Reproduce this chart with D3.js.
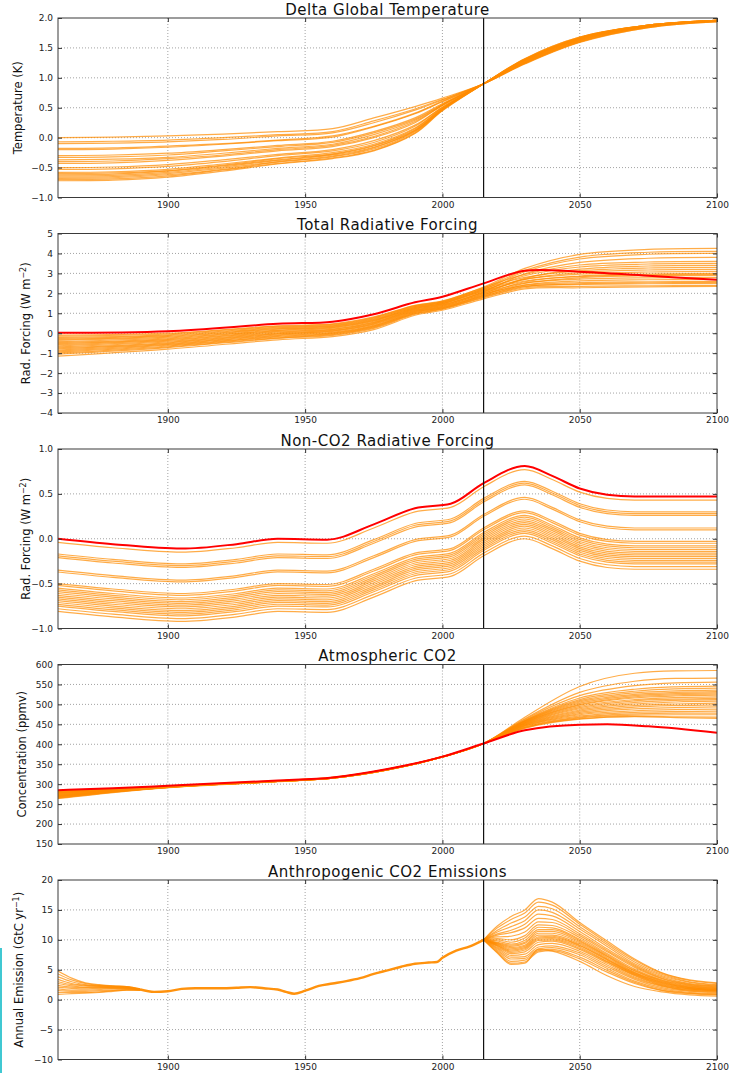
<!DOCTYPE html>
<html>
<head>
<meta charset="utf-8">
<script src="https://cdn.jsdelivr.net/npm/d3@7"></script>
<style>
  body { margin: 0; background: #fff; }
  svg { display: block; font-family: "DejaVu Sans", sans-serif; }
</style>
</head>
<body>
<svg id="chart" width="733" height="1073"></svg>
<script>
// ---------------- data ----------------
const X_TICKS = [1900, 1950, 2000, 2050, 2100];
const CUT_YEAR = 2015;

// Delta global temperature (K)
const TEMP_TICKS = [-1.0, -0.5, 0.0, 0.5, 1.0, 1.5, 2.0];
const TEMP_YEARS = [1860, 1880, 1900, 1920, 1940, 1960, 1975, 1990, 2000, 2015, 2030, 2050, 2075, 2100];
const TEMP_RUNS = [
  [0.00, 0.01, 0.03, 0.06, 0.10, 0.15, 0.33, 0.52, 0.66, 0.90, 1.23, 1.59, 1.84, 1.94],
  [-0.07, -0.06, -0.04, 0.00, 0.05, 0.10, 0.28, 0.48, 0.64, 0.90, 1.24, 1.60, 1.84, 1.94],
  [-0.10, -0.09, -0.07, -0.03, 0.03, 0.08, 0.25, 0.46, 0.63, 0.90, 1.24, 1.60, 1.85, 1.94],
  [-0.18, -0.17, -0.14, -0.10, -0.04, 0.03, 0.19, 0.41, 0.61, 0.90, 1.25, 1.61, 1.85, 1.95],
  [-0.20, -0.19, -0.16, -0.11, -0.05, 0.01, 0.18, 0.40, 0.60, 0.90, 1.25, 1.62, 1.85, 1.95],
  [-0.30, -0.29, -0.26, -0.20, -0.13, -0.06, 0.10, 0.33, 0.57, 0.90, 1.26, 1.62, 1.86, 1.95],
  [-0.33, -0.32, -0.29, -0.22, -0.15, -0.08, 0.08, 0.31, 0.56, 0.90, 1.26, 1.63, 1.86, 1.95],
  [-0.37, -0.36, -0.33, -0.26, -0.18, -0.11, 0.05, 0.29, 0.55, 0.90, 1.27, 1.63, 1.86, 1.95],
  [-0.40, -0.39, -0.35, -0.29, -0.20, -0.13, 0.02, 0.27, 0.54, 0.90, 1.27, 1.64, 1.86, 1.95],
  [-0.43, -0.42, -0.38, -0.31, -0.22, -0.15, 0.00, 0.25, 0.54, 0.90, 1.28, 1.64, 1.87, 1.95],
  [-0.50, -0.49, -0.45, -0.37, -0.28, -0.20, -0.05, 0.21, 0.51, 0.90, 1.28, 1.65, 1.87, 1.95],
  [-0.53, -0.52, -0.48, -0.40, -0.30, -0.22, -0.08, 0.19, 0.51, 0.90, 1.29, 1.65, 1.87, 1.96],
  [-0.58, -0.57, -0.53, -0.44, -0.34, -0.25, -0.11, 0.16, 0.49, 0.90, 1.29, 1.66, 1.87, 1.96],
  [-0.60, -0.59, -0.55, -0.46, -0.35, -0.27, -0.13, 0.15, 0.49, 0.90, 1.30, 1.66, 1.87, 1.96],
  [-0.62, -0.61, -0.56, -0.47, -0.37, -0.28, -0.14, 0.13, 0.48, 0.90, 1.30, 1.66, 1.88, 1.96],
  [-0.64, -0.63, -0.58, -0.49, -0.38, -0.29, -0.16, 0.12, 0.47, 0.90, 1.30, 1.67, 1.88, 1.96],
  [-0.66, -0.65, -0.60, -0.51, -0.40, -0.31, -0.17, 0.11, 0.47, 0.90, 1.31, 1.67, 1.88, 1.96],
  [-0.68, -0.67, -0.62, -0.53, -0.41, -0.32, -0.19, 0.10, 0.46, 0.90, 1.31, 1.67, 1.88, 1.96],
  [-0.70, -0.69, -0.64, -0.54, -0.43, -0.34, -0.21, 0.08, 0.46, 0.90, 1.32, 1.68, 1.88, 1.96],
  [-0.72, -0.71, -0.66, -0.56, -0.44, -0.35, -0.22, 0.07, 0.45, 0.90, 1.32, 1.68, 1.88, 1.96]
];

// Total radiative forcing (W m-2)
const RF_TICKS = [-4, -3, -2, -1, 0, 1, 2, 3, 4, 5];
const RF_YEARS = [1860, 1900, 1940, 1960, 1975, 1990, 2000, 2015, 2030, 2050, 2075, 2100];
const RF_RUNS = [
  [-0.10, 0.00, 0.37, 0.47, 0.82, 1.40, 1.62, 2.32, 3.25, 3.95, 4.20, 4.25],
  [-0.15, -0.04, 0.34, 0.44, 0.79, 1.38, 1.60, 2.29, 2.95, 3.42, 3.57, 3.60],
  [-0.21, -0.08, 0.30, 0.41, 0.76, 1.35, 1.57, 2.26, 3.15, 3.82, 4.06, 4.10],
  [-0.26, -0.12, 0.27, 0.37, 0.72, 1.33, 1.55, 2.23, 2.80, 3.13, 3.27, 3.30],
  [-0.31, -0.16, 0.23, 0.34, 0.69, 1.30, 1.53, 2.20, 3.08, 3.72, 3.96, 4.00],
  [-0.36, -0.20, 0.20, 0.31, 0.66, 1.28, 1.50, 2.17, 2.70, 2.96, 3.07, 3.10],
  [-0.42, -0.24, 0.16, 0.28, 0.63, 1.25, 1.48, 2.14, 2.88, 3.32, 3.47, 3.50],
  [-0.47, -0.28, 0.13, 0.25, 0.60, 1.23, 1.46, 2.11, 2.62, 2.84, 2.93, 2.95],
  [-0.52, -0.32, 0.09, 0.21, 0.56, 1.20, 1.43, 2.08, 2.98, 3.55, 3.76, 3.80],
  [-0.57, -0.36, 0.06, 0.18, 0.53, 1.18, 1.41, 2.05, 2.70, 3.04, 3.17, 3.20],
  [-0.63, -0.40, 0.02, 0.15, 0.50, 1.15, 1.39, 2.02, 2.52, 2.71, 2.78, 2.80],
  [-0.68, -0.44, -0.02, 0.12, 0.47, 1.13, 1.36, 1.99, 2.75, 3.21, 3.37, 3.40],
  [-0.73, -0.48, -0.05, 0.09, 0.44, 1.10, 1.34, 1.96, 2.40, 2.54, 2.58, 2.60],
  [-0.78, -0.52, -0.09, 0.05, 0.40, 1.08, 1.31, 1.93, 2.58, 2.87, 2.97, 3.00],
  [-0.84, -0.56, -0.12, 0.02, 0.37, 1.05, 1.29, 1.90, 2.50, 2.78, 2.88, 2.90],
  [-0.89, -0.60, -0.16, -0.01, 0.34, 1.03, 1.27, 1.87, 2.35, 2.45, 2.48, 2.50],
  [-0.94, -0.64, -0.19, -0.04, 0.31, 1.00, 1.24, 1.84, 2.42, 2.62, 2.68, 2.70],
  [-0.99, -0.68, -0.23, -0.07, 0.28, 0.98, 1.22, 1.81, 2.33, 2.48, 2.53, 2.55],
  [-1.05, -0.72, -0.26, -0.11, 0.24, 0.95, 1.20, 1.78, 2.28, 2.35, 2.38, 2.40],
  [-1.15, -0.80, -0.33, -0.17, 0.18, 0.90, 1.15, 1.72, 2.22, 2.28, 2.32, 2.35]
];
const RF_RED = [0.02, 0.10, 0.47, 0.58, 0.95, 1.55, 1.83, 2.50, 3.13, 3.08, 2.88, 2.68];

// Non-CO2 radiative forcing (W m-2)
const NC_TICKS = [-1.0, -0.5, 0.0, 0.5, 1.0];
const NC_YEARS = [1860, 1880, 1905, 1925, 1940, 1958, 1975, 1990, 2003, 2015, 2030, 2040, 2050, 2060, 2070, 2100];
const NC_RED = [0.00, -0.06, -0.11, -0.06, 0.00, -0.01, 0.16, 0.34, 0.39, 0.62, 0.81, 0.70, 0.56, 0.49, 0.47, 0.47];
const NC_RUNS = [
  [-0.04, -0.10, -0.15, -0.10, -0.04, -0.05, 0.12, 0.30, 0.35, 0.58, 0.77, 0.66, 0.52, 0.45, 0.43, 0.43],
  [-0.17, -0.23, -0.28, -0.23, -0.17, -0.18, -0.01, 0.17, 0.22, 0.45, 0.64, 0.53, 0.39, 0.32, 0.30, 0.30],
  [-0.19, -0.25, -0.30, -0.25, -0.19, -0.20, -0.03, 0.15, 0.20, 0.43, 0.62, 0.51, 0.37, 0.30, 0.28, 0.28],
  [-0.21, -0.27, -0.32, -0.27, -0.21, -0.22, -0.05, 0.13, 0.18, 0.41, 0.60, 0.49, 0.35, 0.28, 0.26, 0.26],
  [-0.35, -0.41, -0.46, -0.41, -0.35, -0.36, -0.19, -0.01, 0.04, 0.27, 0.46, 0.35, 0.21, 0.14, 0.12, 0.12],
  [-0.37, -0.43, -0.48, -0.43, -0.37, -0.38, -0.21, -0.03, 0.02, 0.25, 0.44, 0.33, 0.19, 0.12, 0.10, 0.10],
  [-0.50, -0.56, -0.61, -0.56, -0.50, -0.51, -0.34, -0.16, -0.11, 0.12, 0.31, 0.20, 0.06, -0.01, -0.03, -0.03],
  [-0.52, -0.58, -0.63, -0.58, -0.52, -0.53, -0.36, -0.18, -0.13, 0.10, 0.29, 0.18, 0.04, -0.03, -0.05, -0.05],
  [-0.55, -0.61, -0.66, -0.61, -0.55, -0.56, -0.39, -0.21, -0.16, 0.07, 0.26, 0.15, 0.01, -0.06, -0.08, -0.08],
  [-0.57, -0.63, -0.68, -0.63, -0.57, -0.58, -0.41, -0.23, -0.18, 0.05, 0.24, 0.13, -0.01, -0.08, -0.10, -0.10],
  [-0.59, -0.65, -0.70, -0.65, -0.59, -0.60, -0.43, -0.25, -0.20, 0.03, 0.22, 0.11, -0.03, -0.10, -0.12, -0.12],
  [-0.61, -0.67, -0.72, -0.67, -0.61, -0.62, -0.45, -0.27, -0.22, 0.01, 0.20, 0.09, -0.05, -0.12, -0.14, -0.14],
  [-0.63, -0.69, -0.74, -0.69, -0.63, -0.64, -0.47, -0.29, -0.24, -0.01, 0.18, 0.07, -0.07, -0.14, -0.16, -0.16],
  [-0.65, -0.71, -0.76, -0.71, -0.65, -0.66, -0.49, -0.31, -0.26, -0.03, 0.16, 0.05, -0.09, -0.16, -0.18, -0.18],
  [-0.67, -0.73, -0.78, -0.73, -0.67, -0.68, -0.51, -0.33, -0.28, -0.05, 0.14, 0.03, -0.11, -0.18, -0.20, -0.20],
  [-0.69, -0.75, -0.80, -0.75, -0.69, -0.70, -0.53, -0.35, -0.30, -0.07, 0.12, 0.01, -0.13, -0.20, -0.22, -0.22],
  [-0.71, -0.77, -0.82, -0.77, -0.71, -0.72, -0.55, -0.37, -0.32, -0.09, 0.10, -0.01, -0.15, -0.22, -0.24, -0.24],
  [-0.73, -0.79, -0.84, -0.79, -0.73, -0.74, -0.57, -0.39, -0.34, -0.11, 0.08, -0.03, -0.17, -0.24, -0.26, -0.26],
  [-0.75, -0.81, -0.86, -0.81, -0.75, -0.76, -0.59, -0.41, -0.36, -0.13, 0.06, -0.05, -0.19, -0.26, -0.28, -0.28],
  [-0.78, -0.84, -0.89, -0.84, -0.78, -0.79, -0.62, -0.44, -0.39, -0.16, 0.03, -0.08, -0.22, -0.29, -0.31, -0.31],
  [-0.81, -0.87, -0.92, -0.87, -0.81, -0.82, -0.65, -0.47, -0.42, -0.19, 0.00, -0.11, -0.25, -0.32, -0.34, -0.34]
];

// Atmospheric CO2 (ppmv)
const CO2_TICKS = [150, 200, 250, 300, 350, 400, 450, 500, 550, 600];
const CO2_YEARS = [1860, 1880, 1900, 1940, 1960, 1980, 2000, 2015, 2030, 2050, 2070, 2085, 2100];
const CO2_RUNS = [
  [284, 289, 295, 309, 317, 338, 369, 402, 468, 545, 578, 584, 585],
  [265, 280, 292, 307, 316, 337, 368, 402, 464, 530, 558, 565, 566],
  [278, 286, 294, 308, 316, 337, 368, 402, 462, 522, 547, 554, 556],
  [270, 282, 292, 307, 315, 336, 368, 402, 460, 516, 538, 544, 546],
  [281, 288, 294, 308, 316, 337, 369, 402, 459, 512, 533, 539, 541],
  [268, 281, 292, 307, 315, 336, 368, 402, 458, 509, 529, 534, 536],
  [275, 285, 293, 308, 316, 337, 368, 402, 457, 506, 525, 530, 532],
  [272, 283, 293, 307, 316, 337, 368, 402, 456, 503, 522, 527, 529],
  [283, 289, 295, 309, 317, 338, 369, 402, 455, 500, 519, 524, 526],
  [267, 281, 292, 307, 315, 336, 368, 402, 454, 498, 516, 521, 523],
  [279, 287, 294, 308, 316, 337, 369, 402, 453, 495, 512, 517, 519],
  [273, 284, 293, 307, 316, 337, 368, 402, 452, 492, 509, 513, 515],
  [276, 285, 293, 308, 316, 337, 368, 402, 451, 489, 505, 510, 512],
  [269, 282, 292, 307, 315, 336, 368, 402, 450, 486, 501, 506, 508],
  [280, 287, 294, 308, 316, 337, 369, 402, 449, 483, 497, 501, 503],
  [266, 280, 292, 307, 315, 336, 368, 402, 448, 480, 493, 497, 499],
  [277, 286, 294, 308, 316, 337, 368, 402, 447, 477, 489, 492, 494],
  [271, 283, 293, 307, 315, 336, 368, 402, 446, 474, 484, 487, 488],
  [282, 288, 295, 308, 317, 337, 369, 402, 445, 471, 480, 482, 483],
  [274, 284, 293, 307, 316, 337, 368, 402, 443, 468, 476, 478, 478],
  [264, 279, 291, 306, 315, 336, 368, 402, 442, 466, 473, 474, 474],
  [279, 287, 294, 308, 316, 337, 369, 402, 441, 464, 470, 469, 468],
  [270, 282, 292, 307, 315, 336, 368, 402, 440, 463, 469, 467, 465]
];
const CO2_RED_YEARS = [1860, 1880, 1900, 1940, 1960, 1980, 2000, 2015, 2030, 2050, 2060, 2075, 2100];
const CO2_RED = [285, 290, 296, 309, 317, 338, 369, 402, 435, 449, 450, 445, 429];

// Anthropogenic CO2 emissions (GtC yr-1)
const EM_TICKS = [-10, -5, 0, 5, 10, 15, 20];
const EM_EARLY_YEARS = [1860, 1865, 1870, 1875, 1880, 1885, 1890];
const EM_EARLY_RUNS = [
  [4.8, 3.6, 2.8, 2.5, 2.3, 2.2, 1.8],
  [4.3, 3.3, 2.7, 2.4, 2.3, 2.2, 1.8],
  [3.8, 3.0, 2.5, 2.3, 2.2, 2.1, 1.7],
  [3.4, 2.7, 2.4, 2.3, 2.2, 2.1, 1.7],
  [3.0, 2.5, 2.3, 2.2, 2.1, 2.0, 1.7],
  [2.7, 2.3, 2.1, 2.1, 2.0, 2.0, 1.7],
  [2.4, 2.1, 2.0, 2.0, 2.0, 1.9, 1.7],
  [2.1, 1.9, 1.8, 1.9, 1.9, 1.9, 1.6],
  [1.8, 1.6, 1.6, 1.7, 1.8, 1.8, 1.6],
  [1.5, 1.4, 1.4, 1.5, 1.6, 1.7, 1.6],
  [1.2, 1.2, 1.2, 1.3, 1.5, 1.6, 1.6],
  [0.9, 1.0, 1.1, 1.2, 1.4, 1.6, 1.6]
];
const EM_HIST_YEARS = [1890, 1895, 1900, 1905, 1910, 1915, 1920, 1925, 1930, 1935, 1940, 1943, 1946, 1950, 1955, 1960, 1965, 1970, 1975, 1980, 1985, 1990, 1995, 1998, 2000, 2005, 2010, 2015];
const EM_HIST = [1.7, 1.3, 1.4, 1.8, 1.9, 1.9, 1.9, 2.0, 2.1, 1.9, 1.7, 1.3, 1.0, 1.5, 2.3, 2.7, 3.1, 3.6, 4.3, 4.9, 5.5, 6.0, 6.2, 6.3, 7.0, 8.2, 8.9, 10.0];
const EM_FUT_YEARS = [2015, 2020, 2025, 2030, 2035, 2040, 2050, 2060, 2070, 2080, 2090, 2100];
const EM_FUT_RUNS = [
  [10, 12.3, 13.9, 15.0, 16.9, 16.3, 12.9, 9.8, 6.8, 4.5, 3.3, 2.8],
  [10, 12.0, 13.4, 14.5, 16.3, 15.8, 12.6, 9.5, 6.6, 4.4, 3.2, 2.7],
  [10, 11.6, 12.8, 13.8, 15.6, 15.2, 12.2, 9.2, 6.3, 4.2, 3.0, 2.5],
  [10, 11.3, 12.2, 13.2, 15.0, 14.6, 11.8, 8.9, 6.0, 4.0, 2.9, 2.4],
  [10, 11.0, 11.6, 12.6, 14.3, 14.0, 11.4, 8.5, 5.8, 3.8, 2.7, 2.3],
  [10, 10.8, 11.2, 12.0, 13.6, 13.4, 11.0, 8.2, 5.6, 3.6, 2.6, 2.2],
  [10, 10.5, 10.6, 11.3, 13.0, 12.9, 10.7, 8.0, 5.4, 3.5, 2.5, 2.1],
  [10, 10.2, 10.0, 10.7, 12.5, 12.4, 10.4, 7.7, 5.1, 3.3, 2.4, 2.0],
  [10, 10.0, 9.6, 10.3, 12.1, 12.0, 10.1, 7.5, 4.9, 3.2, 2.3, 1.9],
  [10, 9.8, 9.3, 9.9, 11.7, 11.7, 9.9, 7.3, 4.8, 3.1, 2.2, 1.9],
  [10, 9.6, 9.1, 9.6, 11.4, 11.4, 9.7, 7.2, 4.6, 3.0, 2.1, 1.8],
  [10, 9.5, 8.9, 9.4, 11.1, 11.1, 9.5, 7.0, 4.5, 2.9, 2.0, 1.7],
  [10, 9.4, 8.7, 9.1, 10.8, 10.8, 9.3, 6.8, 4.4, 2.8, 2.0, 1.7],
  [10, 9.3, 8.5, 8.9, 10.5, 10.6, 9.1, 6.7, 4.3, 2.7, 1.9, 1.6],
  [10, 9.2, 8.3, 8.7, 10.3, 10.4, 9.0, 6.6, 4.2, 2.6, 1.8, 1.6],
  [10, 9.1, 8.1, 8.5, 10.1, 10.2, 8.8, 6.4, 4.1, 2.5, 1.8, 1.5],
  [10, 9.0, 7.9, 8.3, 9.9, 10.0, 8.6, 6.3, 4.0, 2.4, 1.7, 1.5],
  [10, 8.9, 7.7, 8.0, 9.6, 9.8, 8.4, 6.1, 3.8, 2.3, 1.6, 1.4],
  [10, 8.7, 7.4, 7.6, 9.2, 9.4, 8.1, 5.8, 3.6, 2.2, 1.5, 1.3],
  [10, 8.5, 7.1, 7.2, 8.8, 9.0, 7.8, 5.5, 3.4, 2.0, 1.4, 1.2],
  [10, 8.3, 6.8, 6.9, 8.5, 8.7, 7.5, 5.2, 3.1, 1.8, 1.2, 1.0],
  [10, 8.1, 6.4, 6.6, 8.2, 8.4, 7.1, 4.9, 2.9, 1.6, 1.1, 0.9],
  [10, 7.9, 6.1, 6.3, 8.0, 8.2, 6.8, 4.6, 2.7, 1.5, 1.0, 0.8],
  [10, 7.8, 5.9, 6.1, 8.4, 8.1, 6.4, 4.0, 2.2, 1.3, 0.8, 0.6]
];

// ---------------- drawing ----------------
const ORANGE = '#ff8c00';
const RED = '#ff0000';
const LEFT = 58, RIGHT = 717, PANEL_H = 179.5, PANEL_STEP = 215.5;

const panels = [
  { title: 'Delta Global Temperature', label: 'Temperature (K)', labelX: 22,
    domain: [-1, 2], ticks: TEMP_TICKS, fmt: d3.format('.1f'), curve: d3.curveCatmullRom,
    runs: [{ years: TEMP_YEARS, rows: TEMP_RUNS }] },
  { title: 'Total Radiative Forcing', label: 'Rad. Forcing (W m', sup: '\u22122', labelX: 30,
    domain: [-4, 5], ticks: RF_TICKS, fmt: d3.format('d'), curve: d3.curveCatmullRom,
    runs: [{ years: RF_YEARS, rows: RF_RUNS }], red: { years: RF_YEARS, values: RF_RED } },
  { title: 'Non-CO2 Radiative Forcing', label: 'Rad. Forcing (W m', sup: '\u22122', labelX: 30,
    domain: [-1, 1], ticks: NC_TICKS, fmt: d3.format('.1f'), curve: d3.curveMonotoneX,
    runs: [{ years: NC_YEARS, rows: NC_RUNS }], red: { years: NC_YEARS, values: NC_RED } },
  { title: 'Atmospheric CO2', label: 'Concentration (ppmv)', labelX: 26,
    domain: [150, 600], ticks: CO2_TICKS, fmt: d3.format('d'), curve: d3.curveMonotoneX,
    runs: [{ years: CO2_YEARS, rows: CO2_RUNS }], red: { years: CO2_RED_YEARS, values: CO2_RED } },
  { title: 'Anthropogenic CO2 Emissions', label: 'Annual Emission (GtC yr', sup: '\u22121', labelX: 23,
    domain: [-10, 20], ticks: EM_TICKS, fmt: d3.format('d'), curve: d3.curveMonotoneX,
    runs: [
      { years: EM_EARLY_YEARS, rows: EM_EARLY_RUNS },
      { years: EM_HIST_YEARS, rows: [EM_HIST], width: 2.4, opacity: 0.95 },
      { years: EM_FUT_YEARS, rows: EM_FUT_RUNS }
    ] }
];

const svg = d3.select('#chart');
const x = d3.scaleLinear().domain([1860, 2100]).range([LEFT, RIGHT]);

// stray cyan bar at the left edge of the screenshot
svg.append('rect').attr('x', 0).attr('y', 948).attr('width', 2).attr('height', 125).attr('fill', '#40c8d2');

panels.forEach((p, i) => {
  const top = 18 + i * PANEL_STEP, bottom = top + PANEL_H;
  const y = d3.scaleLinear().domain(p.domain).range([bottom, top]);
  const g = svg.append('g');

  svg.append('clipPath').attr('id', 'clip' + i)
    .append('rect').attr('x', LEFT).attr('y', top).attr('width', RIGHT - LEFT).attr('height', PANEL_H);

  // dotted grid
  g.append('g').selectAll('line')
    .data(X_TICKS.filter(t => t < 2100)).enter().append('line')
      .attr('x1', d => x(d)).attr('x2', d => x(d)).attr('y1', top).attr('y2', bottom);
  g.append('g').selectAll('line')
    .data(p.ticks.filter(t => t > p.domain[0] && t < p.domain[1])).enter().append('line')
      .attr('x1', LEFT).attr('x2', RIGHT).attr('y1', d => y(d)).attr('y2', d => y(d));
  g.selectAll('line')
    .attr('stroke', '#8c8c8c').attr('stroke-width', 0.8).attr('stroke-dasharray', '1,2');

  const plot = g.append('g').attr('clip-path', `url(#clip${i})`);

  // ensemble members
  p.runs.forEach(run => {
    const line = d3.line()
      .x((d, k) => x(run.years[k]))
      .y(d => y(d))
      .curve(p.curve);
    plot.append('g').selectAll('path')
      .data(run.rows).enter().append('path')
        .attr('d', line)
        .attr('fill', 'none')
        .attr('stroke', ORANGE)
        .attr('stroke-width', run.width || 1.2)
        .attr('stroke-opacity', run.opacity || 0.72);
  });

  // reference run
  if (p.red) {
    const redLine = d3.line()
      .x((d, k) => x(p.red.years[k]))
      .y(d => y(d))
      .curve(p.curve);
    plot.append('path')
      .attr('d', redLine(p.red.values))
      .attr('fill', 'none')
      .attr('stroke', RED)
      .attr('stroke-width', 2);
  }

  // present-day marker
  g.append('line')
    .attr('x1', x(CUT_YEAR)).attr('x2', x(CUT_YEAR)).attr('y1', top).attr('y2', bottom)
    .attr('stroke', '#111').attr('stroke-width', 1.2);

  // axes, ticks pointing inward on every side
  const left = g.append('g').attr('transform', `translate(${LEFT},0)`)
    .call(d3.axisLeft(y).tickValues(p.ticks).tickFormat(p.fmt).tickSizeInner(-4).tickSizeOuter(0).tickPadding(5));
  const right = g.append('g').attr('transform', `translate(${RIGHT},0)`)
    .call(d3.axisRight(y).tickValues(p.ticks).tickFormat('').tickSizeInner(-4).tickSizeOuter(0));
  const bottomAx = g.append('g').attr('transform', `translate(0,${bottom})`)
    .call(d3.axisBottom(x).tickValues(X_TICKS).tickFormat(d3.format('d')).tickSizeInner(-4).tickSizeOuter(0).tickPadding(4));
  const topAx = g.append('g').attr('transform', `translate(0,${top})`)
    .call(d3.axisTop(x).tickValues(X_TICKS).tickFormat('').tickSizeInner(-4).tickSizeOuter(0));

  [left, right, bottomAx, topAx].forEach(ax => {
    ax.select('.domain').remove();
    ax.selectAll('.tick line').attr('stroke', '#333');
    ax.selectAll('text').attr('font-size', 9).attr('fill', '#222')
      .attr('font-family', '"DejaVu Sans", sans-serif');
  });

  // frame
  g.append('rect')
    .attr('x', LEFT).attr('y', top).attr('width', RIGHT - LEFT).attr('height', PANEL_H)
    .attr('fill', 'none').attr('stroke', '#3a3a3a').attr('stroke-width', 1);

  // title
  g.append('text')
    .attr('x', (LEFT + RIGHT) / 2).attr('y', top - 3.5)
    .attr('text-anchor', 'middle')
    .attr('font-size', 15).attr('letter-spacing', 0.5).attr('fill', '#111')
    .text(p.title);

  // y label
  const lab = g.append('text')
    .attr('transform', `translate(${p.labelX},${(top + bottom) / 2}) rotate(-90)`)
    .attr('text-anchor', 'middle')
    .attr('font-size', 11.5).attr('fill', '#111');
  lab.append('tspan').text(p.label);
  if (p.sup) {
    lab.append('tspan').attr('dy', -4.5).attr('font-size', 8).text(p.sup);
    lab.append('tspan').attr('dy', 4.5).text(')');
  }
});
</script>
</body>
</html>
